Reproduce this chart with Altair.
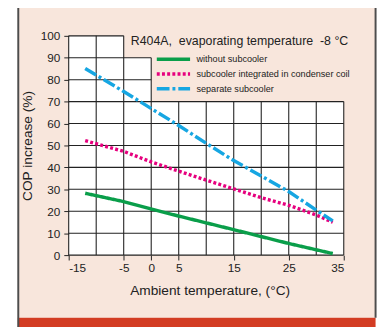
import altair as alt
import pandas as pd

# ---- data ----
SERIES = ["without subcooler", "subcooler integrated in condenser coil", "separate subcooler"]
COLORS = ["#0a9e4a", "#e6007e", "#16a6e2"]
DASHES = [[1, 0], [3, 2.3], [13, 3, 3, 3]]

green_x = [-12, -5, 0, 5, 15, 25, 33]
green_y = [28.2, 24.4, 21.0, 17.8, 11.6, 5.3, 0.7]
magenta_x = [-12, -5, 0, 5, 10, 15, 20, 25, 30, 33]
magenta_y = [52.2, 47.3, 42.5, 38.3, 34.2, 30.2, 26.2, 22.7, 18.3, 15.0]
cyan_x = [-12, -5, 5, 10, 15, 20, 25, 30, 33]
cyan_y = [85.1, 74.6, 59.1, 51.0, 43.1, 36.1, 29.0, 20.5, 15.6]

X_TICKS = [-15, -5, 0, 5, 15, 25, 35]
Y_TICKS = list(range(0, 101, 10))
X_GRID = list(range(-15, 36, 5))

# white grid area is stepped (title/legend sit in the pink corner)
STEP_X0 = [-15, -5, 0]
STEP_X1 = [-5, 0, 35]
STEP_TOP = [100, 90, 70]

TITLE = "R404A,\u00a0 evaporating temperature\u00a0 -8 °C"
X_TITLE = "Ambient temperature, (°C)"
Y_TITLE = "COP increase (%)"

PINK = "#f8e6dc"
RED = "#d33c23"
FRAME = "#4d4d4d"
GRID = "#222222"
TEXT = "#222222"
FONT = "Liberation Sans"

# ---- tables ----
rows = []
for name, xs_, ys_ in [(SERIES[0], green_x, green_y), (SERIES[1], magenta_x, magenta_y), (SERIES[2], cyan_x, cyan_y)]:
    for x, y in zip(xs_, ys_):
        rows.append({"series": name, "temp": x, "cop": y})
lines_df = pd.DataFrame(rows)

steps_df = pd.DataFrame({"x0": STEP_X0, "x1": STEP_X1, "y0": 0, "top": STEP_TOP})

def top_at(x):
    return max(t for a, b, t in zip(STEP_X0, STEP_X1, STEP_TOP) if a <= x <= b)

def right_at(y):
    return max(b for b, t in zip(STEP_X1, STEP_TOP) if t >= y)

vgrid = pd.DataFrame({"x": X_GRID, "y0": 0, "y1": [top_at(x) for x in X_GRID]})
hgrid = pd.DataFrame({"y": Y_TICKS, "x0": X_GRID[0], "x1": [right_at(y) for y in Y_TICKS]})

# legend rows (pixel layout inside the plot area)
legend_df = pd.DataFrame({"series": SERIES, "ly": [24 + 15 * i for i in range(len(SERIES))]})

one = pd.DataFrame({"k": [0]})

W, H = 281, 224
xs = alt.Scale(domain=[-15, 35], nice=False, zero=False)
ys = alt.Scale(domain=[0, 100], nice=False)
color_scale = alt.Scale(domain=SERIES, range=COLORS)
dash_scale = alt.Scale(domain=SERIES, range=DASHES)

label_expr = "datum.value + ''"
x_axis = alt.Axis(
    values=X_TICKS, title=X_TITLE, grid=False, domain=False, zindex=2,
    labelExpr=label_expr, labelOverlap=False,
    tickSize=5, tickColor=GRID, labelPadding=3, labelFontSize=12,
    labelFont=FONT, labelColor=TEXT, titleFont=FONT,
    titleFontSize=14, titleFontWeight="normal", titleColor=TEXT, titlePadding=10,
    titleX=144)
y_axis = alt.Axis(
    values=Y_TICKS, title=Y_TITLE, grid=False, domain=False, zindex=2,
    labelExpr=label_expr, labelOverlap=False,
    tickSize=5, tickColor=GRID, labelPadding=4, labelFontSize=12,
    labelFont=FONT, labelColor=TEXT, titleFont=FONT,
    titleFontSize=14, titleFontWeight="normal", titleColor=TEXT, titlePadding=6)

# ---- decorations (frame) ----
frame = alt.Chart(one).mark_rect(fill=PINK).encode(
    x=alt.value(-52), x2=alt.value(313.5), y=alt.value(-40), y2=alt.value(288)
)
redbar = alt.Chart(one).mark_rect(fill=RED).encode(
    x=alt.value(-52), x2=alt.value(313.5), y=alt.value(288), y2=alt.value(300)
)
left_border = alt.Chart(one).mark_rule(color=FRAME, strokeWidth=2).encode(
    x=alt.value(-51.5), y=alt.value(-40), y2=alt.value(300)
)
right_border = alt.Chart(one).mark_rule(color=FRAME, strokeWidth=2).encode(
    x=alt.value(313.5), y=alt.value(-40), y2=alt.value(288)
)

white = alt.Chart(steps_df).mark_rect(fill="white").encode(
    x=alt.X("x0:Q", scale=xs, axis=x_axis),
    x2="x1:Q",
    y=alt.Y("y0:Q", scale=ys, axis=y_axis),
    y2="top:Q",
)

vrules = alt.Chart(vgrid).mark_rule(color=GRID, strokeWidth=1.1).encode(
    x=alt.X("x:Q", scale=xs, axis=x_axis),
    y=alt.Y("y0:Q", scale=ys, axis=y_axis), y2="y1:Q"
)
hrules = alt.Chart(hgrid).mark_rule(color=GRID, strokeWidth=1.1).encode(
    y=alt.Y("y:Q", scale=ys, axis=y_axis),
    x=alt.X("x0:Q", scale=xs, axis=x_axis), x2="x1:Q"
)

lines = alt.Chart(lines_df).mark_line(strokeWidth=3.5, strokeCap="butt").encode(
    x=alt.X("temp:Q", scale=xs, axis=x_axis),
    y=alt.Y("cop:Q", scale=ys, axis=y_axis),
    color=alt.Color("series:N", scale=color_scale, legend=None),
    strokeDash=alt.StrokeDash("series:N", scale=dash_scale, legend=None),
    detail="series:N",
)

legend_sym = alt.Chart(legend_df).mark_rule(strokeWidth=3.5, strokeCap="butt").encode(
    x=alt.value(90), x2=alt.value(124),
    y=alt.Y("ly:Q", scale=None),
    color=alt.Color("series:N", scale=color_scale, legend=None),
    strokeDash=alt.StrokeDash("series:N", scale=dash_scale, legend=None),
)
legend_txt = alt.Chart(legend_df).mark_text(
    align="left", baseline="middle", font=FONT, fontSize=9.3, color=TEXT
).encode(x=alt.value(130.5), y=alt.Y("ly:Q", scale=None), text="series:N")

title = alt.Chart(one).mark_text(
    align="left", baseline="alphabetic", font=FONT, fontSize=12.6, color=TEXT
).encode(x=alt.value(63.5), y=alt.value(9), text=alt.value(TITLE))

chart = alt.layer(
    frame, redbar, left_border, right_border, white, vrules, hrules, lines,
    legend_sym, legend_txt, title
).properties(
    width=W, height=H,
    autosize="none",
    padding={"left": 62, "top": 25, "right": 36, "bottom": 70},
    background="white",
).configure_view(stroke=None)

chart.save("out.html", embed_options={"renderer": "svg", "actions": False})
